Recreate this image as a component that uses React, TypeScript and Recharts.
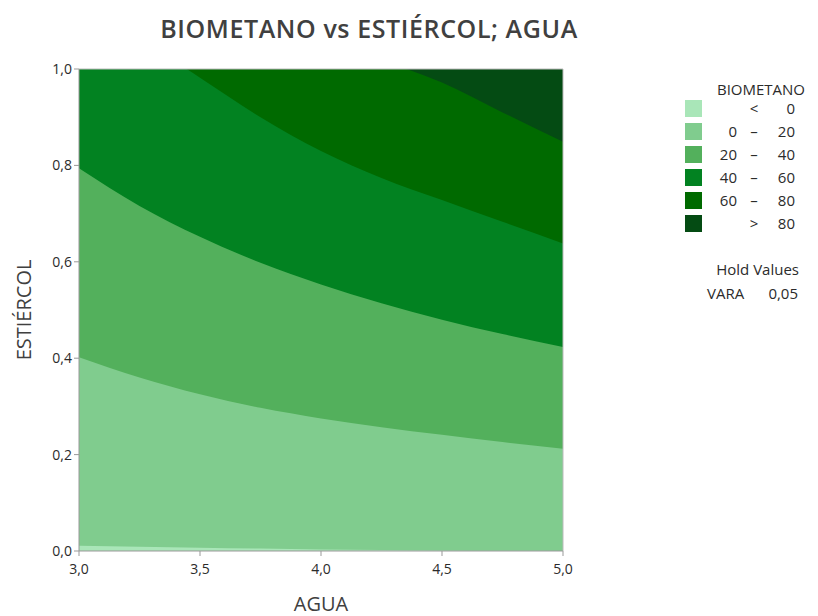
import {
  ComposedChart,
  Area,
  XAxis,
  YAxis,
  CartesianGrid,
  ReferenceLine,
} from "recharts";

// AGUA grid (includes the points where the 60 and 80 contours leave the top edge)
const agua = [3.0, 3.25, 3.445, 3.5, 3.75, 4.0, 4.25, 4.354, 4.5, 4.75, 5.0];

// ESTIÉRCOL value where BIOMETANO crosses each level (null = not read at that AGUA / out of view)
const nivel0 = [0.011, 0.009, null, 0.007, 0.005, 0.003, 0.002, null, 0.001, 0.0005, 0];
const nivel20 = [0.402, 0.36, null, 0.325, 0.297, 0.275, 0.257, null, 0.241, 0.226, 0.212];
const nivel40 = [0.794, 0.716, null, 0.652, 0.598, 0.553, 0.514, null, 0.48, 0.45, 0.423];
const nivel60 = [null, null, 1, 0.982, 0.9, 0.83, 0.774, null, 0.728, 0.683, 0.638];
const nivel80 = [null, null, null, null, null, null, null, 1, 0.972, 0.91, 0.849];

const xTicks = [3, 3.5, 4, 4.5, 5];
const yTicks = [0, 0.2, 0.4, 0.6, 0.8, 1];

const bandas = [
  { color: "#a9e6b8", desde: "", signo: "<", hasta: "0" },
  { color: "#80cc8e", desde: "0", signo: "–", hasta: "20" },
  { color: "#53b05c", desde: "20", signo: "–", hasta: "40" },
  { color: "#028221", desde: "40", signo: "–", hasta: "60" },
  { color: "#006a00", desde: "60", signo: "–", hasta: "80" },
  { color: "#044b13", desde: "", signo: ">", hasta: "80" },
];

const data = agua.map((x, i) => ({
  agua: x,
  n0: nivel0[i],
  n20: nivel20[i],
  n40: nivel40[i],
  n60: nivel60[i],
  n80: nivel80[i],
}));

const fmt = (v: number) => v.toFixed(1).replace(".", ",");

const txt = "#2b2b2b";
const axisGray = "#999";

export default function App() {
  return (
    <div
      style={{
        position: "absolute",
        left: 0,
        top: 0,
        width: 818,
        height: 616,
        background: "#fff",
        fontFamily: "'Open Sans', sans-serif",
        color: txt,
      }}
    >
      <div
        style={{
          position: "absolute",
          left: 0,
          width: 738,
          top: 11,
          textAlign: "center",
          fontSize: 25,
          fontWeight: 600,
          letterSpacing: 0.6,
          color: "#404040",
        }}
      >
        BIOMETANO vs ESTIÉRCOL; AGUA
      </div>

      <ComposedChart
        width={818}
        height={616}
        data={data}
        margin={{ top: 69, right: 255, bottom: 35, left: 39 }}
      >
        {/* plot background = 40–60 band; lower bands are filled up from 0, upper ones down from 1 */}
        <CartesianGrid horizontal={false} vertical={false} fill="#028221" />
        <XAxis
          dataKey="agua"
          type="number"
          domain={[3, 5]}
          ticks={xTicks}
          tickFormatter={fmt}
          height={30}
          tickSize={5}
          tickMargin={8}
          axisLine={{ stroke: axisGray }}
          tickLine={{ stroke: axisGray }}
          tick={{ fill: txt, fontSize: 14 }}
          label={{ value: "AGUA", position: "bottom", offset: 16, fill: "#404040", fontSize: 20 }}
        />
        <YAxis
          type="number"
          domain={[0, 1]}
          ticks={yTicks}
          tickFormatter={fmt}
          width={40}
          tickSize={5}
          axisLine={{ stroke: axisGray }}
          tickLine={{ stroke: axisGray }}
          tick={{ fill: txt, fontSize: 14 }}
          label={{
            value: "ESTIÉRCOL",
            angle: -90,
            position: "insideLeft",
            offset: -15,
            fill: "#404040",
            fontSize: 20,
            style: { textAnchor: "middle" },
          }}
        />
        <Area type="monotone" dataKey="n60" baseValue={1} connectNulls stroke="none" fill="#006a00" fillOpacity={1} isAnimationActive={false} activeDot={false} />
        <Area type="monotone" dataKey="n80" baseValue={1} connectNulls stroke="none" fill="#044b13" fillOpacity={1} isAnimationActive={false} activeDot={false} />
        <Area type="monotone" dataKey="n40" connectNulls stroke="none" fill="#53b05c" fillOpacity={1} isAnimationActive={false} activeDot={false} />
        <Area type="monotone" dataKey="n20" connectNulls stroke="none" fill="#80cc8e" fillOpacity={1} isAnimationActive={false} activeDot={false} />
        <Area type="monotone" dataKey="n0" connectNulls stroke="none" fill="#a9e6b8" fillOpacity={1} isAnimationActive={false} activeDot={false} />
        <ReferenceLine y={1} stroke="#bbb" />
        <ReferenceLine x={5} stroke="#bbb" />
      </ComposedChart>

      <div style={{ position: "absolute", left: 696, width: 130, top: 79, textAlign: "center", fontSize: 15 }}>
        BIOMETANO
      </div>
      {bandas.map((b, i) => (
        <div key={i} style={{ position: "absolute", left: 0, top: 100 + i * 23, height: 17, fontSize: 15, lineHeight: "17px" }}>
          <div style={{ position: "absolute", left: 685, top: 0, width: 17, height: 17, background: b.color }} />
          <div style={{ position: "absolute", left: 700, width: 37, textAlign: "right" }}>{b.desde}</div>
          <div style={{ position: "absolute", left: 744, width: 20, textAlign: "center" }}>{b.signo}</div>
          <div style={{ position: "absolute", left: 765, width: 30, textAlign: "right" }}>{b.hasta}</div>
        </div>
      ))}
      <div style={{ position: "absolute", left: 680, width: 119, top: 259, textAlign: "right", fontSize: 15 }}>
        Hold Values
      </div>
      <div style={{ position: "absolute", left: 707, top: 283, fontSize: 15 }}>VARA</div>
      <div style={{ position: "absolute", left: 740, width: 58, top: 283, textAlign: "right", fontSize: 15 }}>0,05</div>
    </div>
  );
}
